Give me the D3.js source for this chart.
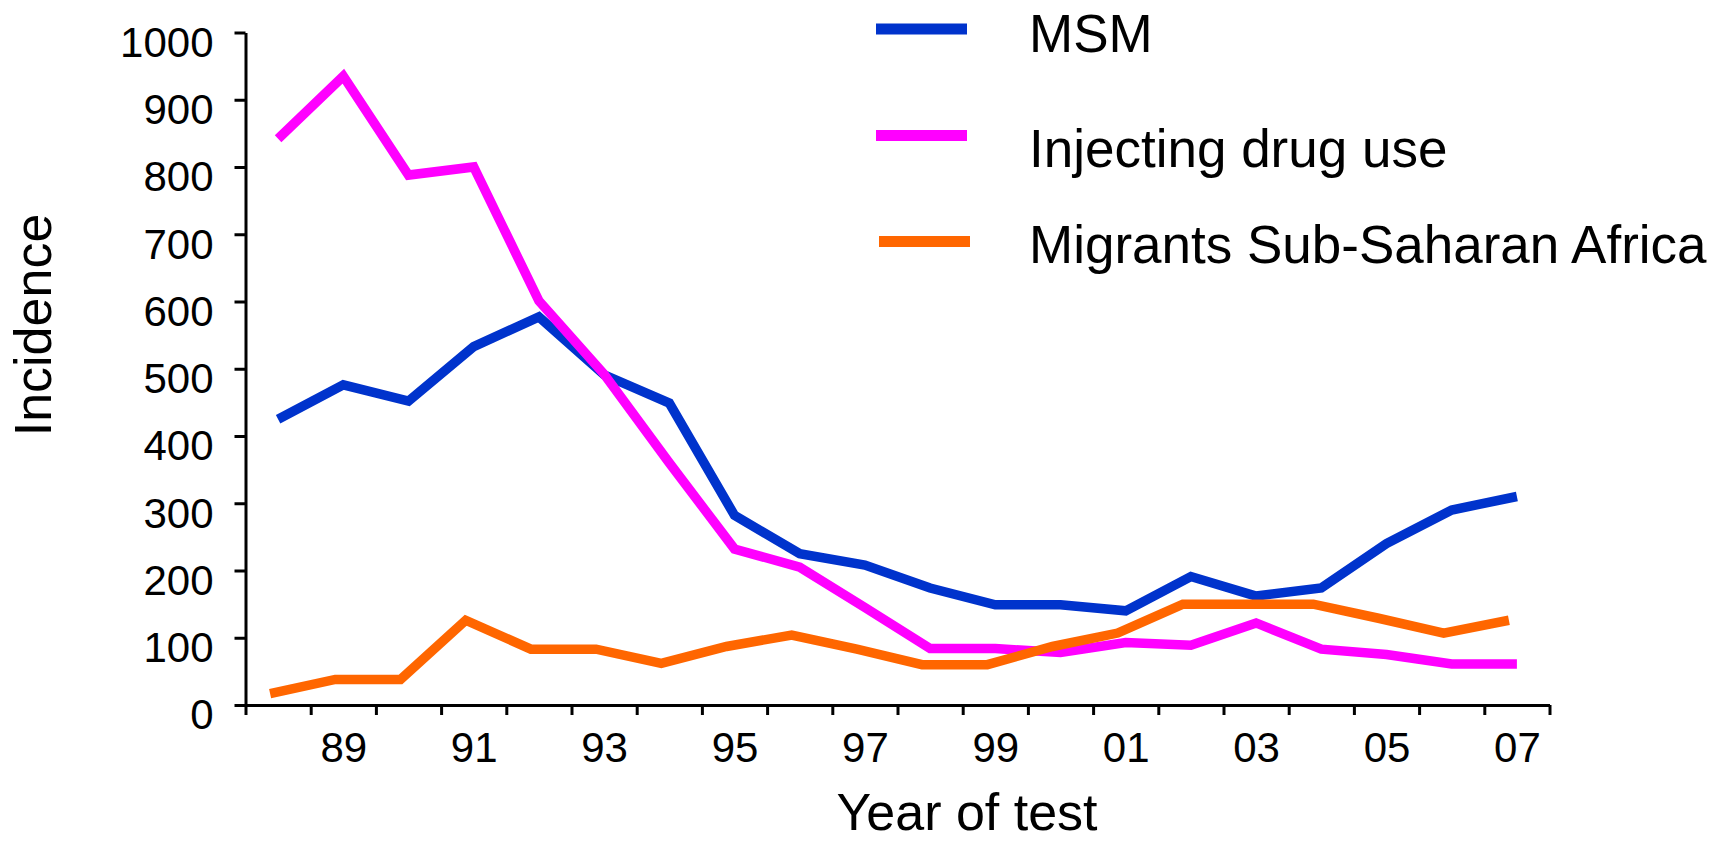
<!DOCTYPE html>
<html>
<head>
<meta charset="utf-8">
<script src="https://cdn.jsdelivr.net/npm/d3@7"></script>
<style>
  body { margin: 0; background: #fff; }
  text { font-family: "Liberation Sans", Arial, sans-serif; fill: #000; }
</style>
</head>
<body>
<div id="chart"></div>
<script>
// data
var years = d3.range(1988, 2008);
var msm = [425, 476, 452, 533, 577, 491, 449, 282, 225, 208, 174, 149, 149, 140, 191, 162, 174, 240, 290, 310];
var idu = [842, 935, 788, 800, 601, 492, 360, 232, 205, 145, 84, 84, 78, 93, 89, 122, 83, 75, 61, 61];
var migrants = [17, 38, 38, 126, 83, 83, 62, 87, 104, 83, 60, 60, 87, 107, 150, 150, 150, 129, 107, 126];

var seriesNames = ["MSM", "Injecting drug use", "Migrants Sub-Saharan Africa"];
var seriesColors = ["#0033cc", "#ff00ff", "#ff6600"];

var labelYears = [1989, 1991, 1993, 1995, 1997, 1999, 2001, 2003, 2005, 2007];
var xLabels = ["89", "91", "93", "95", "97", "99", "01", "03", "05", "07"];
var yTicks = d3.range(0, 1001, 100);

var svgWidth = 1712;
var svgHeight = 842;

var svg = d3.select("#chart").append("svg")
            .attr("width", svgWidth)
            .attr("height", svgHeight);

var xScale = d3.scaleLinear()
               .domain([1987.5, 2007.5])
               .range([245.5, 1549.5]);

var yScale = d3.scaleLinear()
               .domain([0, 1000])
               .range([705, 32.5]);

// y axis
var leftAxis = d3.axisLeft(yScale)
                 .tickValues(yTicks)
                 .tickSize(11)
                 .tickSizeOuter(0)
                 .tickPadding(21)
                 .tickFormat(d3.format("d"));
var yAxisG = svg.append("g")
                .attr("transform", `translate(${xScale.range()[0]}, 0)`)
                .call(leftAxis);
yAxisG.selectAll("text").attr("dy", "0.57em").style("font-size", "42px");

// x axis: ticks between the years
var bottomAxis = d3.axisBottom(xScale)
                   .tickValues(d3.range(1987.5, 2008, 1))
                   .tickSize(10)
                   .tickSizeOuter(0)
                   .tickFormat("");
svg.append("g")
   .attr("transform", `translate(0, ${yScale(0)})`)
   .call(bottomAxis);

// x labels on odd years
var labelAxis = d3.axisBottom(xScale)
                  .tickValues(labelYears)
                  .tickSize(0)
                  .tickPadding(27)
                  .tickFormat((d, i) => xLabels[i]);
var labelG = svg.append("g")
                .attr("transform", `translate(0, ${yScale(0)})`)
                .call(labelAxis);
labelG.select(".domain").remove();
labelG.selectAll("text").style("font-size", "42px");

svg.selectAll(".domain, .tick line")
   .attr("stroke", "#000")
   .attr("stroke-width", 3);

// lines
var line = d3.line()
             .x((d, i) => xScale(years[i]))
             .y(d => yScale(d));

var allSeries = [msm, idu, migrants];
var lineShift = [0, 0, -8];

allSeries.forEach((s, i) => {
    svg.append("path")
       .datum(s)
       .attr("d", line)
       .attr("transform", `translate(${lineShift[i]}, 0)`)
       .attr("fill", "none")
       .attr("stroke", seriesColors[i])
       .attr("stroke-width", 9.5)
       .attr("stroke-linejoin", "miter")
       .attr("stroke-linecap", "butt");
});

// legend
var legendLineY = [29, 135.5, 241.5];
var legendTextY = [51.7, 166.7, 263.3];
var legendLineX = [[876, 967], [876, 967], [879, 970]];

seriesNames.forEach((name, i) => {
    svg.append("line")
       .attr("x1", legendLineX[i][0])
       .attr("x2", legendLineX[i][1])
       .attr("y1", legendLineY[i])
       .attr("y2", legendLineY[i])
       .attr("stroke", seriesColors[i])
       .attr("stroke-width", 11);
    svg.append("text")
       .attr("x", 1029)
       .attr("y", legendTextY[i])
       .style("font-size", "53px")
       .text(name);
});

// axis titles
svg.append("text")
   .attr("x", 967)
   .attr("y", 830)
   .attr("text-anchor", "middle")
   .style("font-size", "52px")
   .text("Year of test");

svg.append("text")
   .attr("transform", "rotate(-90)")
   .attr("x", -325)
   .attr("y", 51)
   .attr("text-anchor", "middle")
   .style("font-size", "52px")
   .text("Incidence");
</script>
</body>
</html>
